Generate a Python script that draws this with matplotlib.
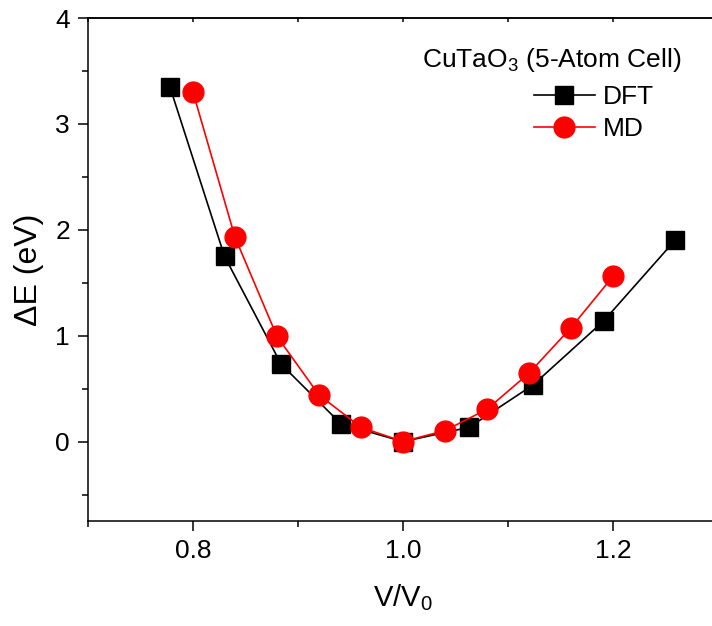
import matplotlib
matplotlib.use("Agg")
import matplotlib.pyplot as plt
from matplotlib.ticker import MultipleLocator

# data
dft_x = [0.778, 0.830, 0.884, 0.941, 1.000, 1.063, 1.124, 1.191, 1.259]
dft_e = [3.35, 1.75, 0.73, 0.167, 0.0, 0.135, 0.536, 1.138, 1.90]

md_x = [0.80, 0.84, 0.88, 0.92, 0.96, 1.00, 1.04, 1.08, 1.12, 1.16, 1.20]
md_e = [3.30, 1.93, 0.993, 0.44, 0.135, 0.0, 0.104, 0.305, 0.646, 1.075, 1.56]

plt.rcParams['font.family'] = ['Liberation Sans', 'DejaVu Sans']
plt.rcParams['mathtext.fontset'] = 'custom'
plt.rcParams['mathtext.rm'] = 'Liberation Sans'

fig = plt.figure(figsize=(7.12, 6.26), dpi=100)
ax = fig.add_axes([88 / 712, 105 / 626, 630 / 712, 503 / 626])

ax.plot(dft_x, dft_e, color='black', lw=1.2, marker='s', ms=13.5,
        label='DFT', zorder=3)
ax.plot(md_x, md_e, color='red', lw=1.2, marker='o', ms=15,
        label='MD', zorder=4)

ax.set_xlim(0.7, 1.3)
ax.set_ylim(-0.75, 4)
ax.xaxis.set_major_locator(MultipleLocator(0.2))
ax.xaxis.set_minor_locator(MultipleLocator(0.1))
ax.yaxis.set_major_locator(MultipleLocator(1))
ax.yaxis.set_minor_locator(MultipleLocator(0.5))
ax.xaxis.set_major_formatter(plt.FuncFormatter(lambda v, p: f"{v:.1f}"))

for s in ax.spines.values():
    s.set_linewidth(1.1)
ax.spines['right'].set_visible(False)

ax.tick_params(which='major', direction='out', length=7, width=1.1,
               labelsize=19, pad=6)
ax.tick_params(which='minor', direction='out', length=4, width=1.1)

# short inward ticks on the top axis
top = ax.secondary_xaxis('top')
top.xaxis.set_major_locator(MultipleLocator(0.1))
top.tick_params(direction='in', length=3, width=1.1, labeltop=False)
top.spines['top'].set_linewidth(1.1)

ax.set_xlabel('V/V$\\mathregular{_0}$', fontsize=21, labelpad=14)
ax.set_ylabel('ΔE (eV)', fontsize=23, labelpad=8)

ax.text(0.7365, 0.9165, 'CuTaO$\\mathregular{_3}$ (5-Atom Cell)',
        transform=ax.transAxes, ha='center', va='center', fontsize=19)
ax.legend(loc='upper left', bbox_to_anchor=(0.708, 0.867), frameon=False,
          fontsize=19, borderpad=0, borderaxespad=0, handlelength=2.3,
          handletextpad=0.3, labelspacing=0.3)

fig.savefig('out.png', dpi=100)
